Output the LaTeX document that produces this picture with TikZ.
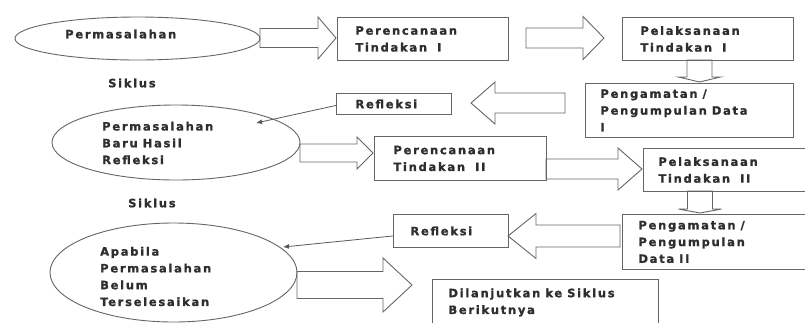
\documentclass[tikz,border=0pt]{standalone}
\usepackage{fontspec}
\newfontfamily\dfont{DejaVu Sans}[BoldFont={DejaVu Sans Bold}, BoldFeatures={FakeBold=1.2}, LetterSpace=15]
\newcommand\wsp{\hspace{5pt}}
\usetikzlibrary{arrows.meta,shapes.geometric}
% horizontal block arrow: x0, xbase, yc, shaft half, head half, xtip
\newcommand\hblk[6]{\draw[blk] (#1,{#3-#4}) -- (#2,{#3-#4}) -- (#2,{#3-#5}) -- (#6,#3) -- (#2,{#3+#5}) -- (#2,{#3+#4}) -- (#1,{#3+#4}) -- cycle;}
% vertical block arrow: y0, ybase, xc, shaft half, head half, ytip
\newcommand\vblk[6]{\draw[blk] ({#3-#4},#1) -- ({#3-#4},#2) -- ({#3-#5},#2) -- (#3,#6) -- ({#3+#5},#2) -- ({#3+#4},#2) -- ({#3+#4},#1) -- cycle;}
\begin{document}
\begin{tikzpicture}[x=1pt,y=-1pt,
  blk/.style={draw=black!60, line width=0.9pt},
  thinline/.style={draw=black!65, line width=0.8pt, -{Latex[length=6pt,width=5pt]}},
  txt/.style={font=\dfont\bfseries\fontsize{11.5}{16.8}\selectfont, text=black!82, inner sep=0pt, align=left},
  ell/.style={draw=black!60, line width=0.9pt, ellipse, inner sep=0pt},
  boxn/.style n args={4}{draw=black!60, line width=0.9pt, anchor=north west, txt,
     minimum width=#1, minimum height=#2, inner xsep=#3, inner ysep=0pt, text width=#4}]
\useasboundingbox (0,0) rectangle (805,322);
\fill[white] (0,0) rectangle (805,322);
\clip (0,0) rectangle (805,322);

% ellipses
\node[ell, minimum width=245, minimum height=43] (e1) at (137.5,38.5) {};
\node[ell, minimum width=248, minimum height=75] (e2) at (176,142.5) {};
\node[ell, minimum width=247, minimum height=99] (e3) at (173.5,272.5) {};
\node[txt, anchor=west] (e1t) at (65,34) {Permasalahan};
\node[txt, anchor=west] (e2t) at (102,143) {Permasalahan\\Baru\wsp Hasil\\Refleksi};
\node[txt, anchor=west] (e3t) at (100,276.5) {Apabila\\Permasalahan\\Belum\\Terselesaikan};
\node[txt, anchor=west] (s1) at (108,83) {Siklus};
\node[txt, anchor=west] (s2) at (128,203) {Siklus};

% boxes
\node[boxn={171}{43}{18}{135}] (p1) at (337,17) {Perencanaan\\Tindakan\wsp\wsp I};
\node[boxn={171}{43}{18}{135}] (l1) at (622,17) {Pelaksanaan\\Tindakan\wsp\wsp I};
\node[boxn={208}{54}{15}{178}] (g1) at (585,83) {Pengamatan\wsp /\\Pengumpulan\wsp Data\\I};
\node[boxn={115}{21}{19}{77}] (r1) at (336,93) {Refleksi};
\node[boxn={172}{44}{19}{134}] (p2) at (374,136) {Perencanaan\\Tindakan\wsp\wsp II};
\node[boxn={175}{43}{15}{145}] (l2) at (643,148) {Pelaksanaan\\Tindakan\wsp\wsp II};
\node[boxn={196}{55}{16}{164}] (g2) at (622,214) {Pengamatan\wsp /\\Pengumpulan\\Data\wsp II};
\node[boxn={115}{33}{17}{81}] (r2) at (393,214) {Refleksi};
\node[boxn={226}{46}{16}{194}] (dl) at (432,279) {Dilanjutkan\wsp ke\wsp Siklus\\Berikutnya};

% block arrows
\hblk{260}{318}{38}{9.5}{21}{336}
\hblk{526}{583}{38}{10}{21.5}{604}
\hblk{565}{495}{103}{10}{21}{471}
\hblk{300}{357}{153}{9}{16}{373}
\hblk{546}{618}{169}{10}{21}{642}
\hblk{620}{536}{236}{11}{22.5}{508}
\hblk{297}{383}{285}{13.5}{27}{412}
\vblk{60}{77}{699.5}{12.5}{21}{82}
\vblk{191}{209}{700}{12.5}{21.5}{213}

% thin connectors
\coordinate (t1) at (256,123);
\coordinate (t2) at (283,247);
\draw[thinline] ([yshift=-1.5pt]r1.west) -- (t1);
\draw[thinline] ([yshift=-5pt]r2.west) -- (t2);
\end{tikzpicture}
\end{document}
